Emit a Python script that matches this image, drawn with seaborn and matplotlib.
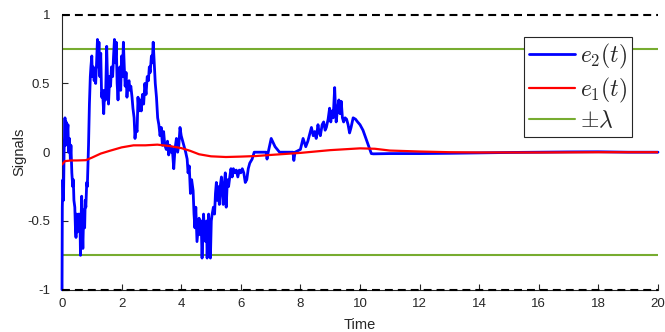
import matplotlib
matplotlib.use("Agg")
import matplotlib.pyplot as plt
import numpy as np
import pandas as pd
import seaborn as sns

# ---- data -------------------------------------------------------------
# e2(t): fast, noisy error signal
e2_time = [
    0.00, 0.01, 0.03, 0.05, 0.07, 0.10, 0.12, 0.14, 0.17, 0.20, 0.22, 0.25,
    0.28, 0.30, 0.33, 0.36, 0.38, 0.40, 0.43, 0.45, 0.47, 0.49, 0.52, 0.55,
    0.58, 0.60, 0.62, 0.64, 0.66, 0.68, 0.70, 0.73, 0.76, 0.78, 0.80, 0.83,
    0.85, 0.87, 0.89, 0.92, 0.95, 0.97, 1.00, 1.02, 1.05, 1.08, 1.10, 1.13,
    1.16, 1.19, 1.21, 1.24, 1.27, 1.30, 1.33, 1.36, 1.40, 1.43, 1.46, 1.50,
    1.53, 1.56, 1.60, 1.63, 1.66, 1.70, 1.73, 1.76, 1.79, 1.82, 1.85, 1.88,
    1.91, 1.94, 1.97, 2.00, 2.03, 2.06, 2.09, 2.12, 2.15, 2.18, 2.21, 2.25,
    2.28, 2.31, 2.35, 2.38, 2.42, 2.45, 2.48, 2.52, 2.55, 2.58, 2.62, 2.66,
    2.70, 2.74, 2.78, 2.82, 2.86, 2.90, 2.93, 2.96, 3.00, 3.03, 3.06, 3.10,
    3.13, 3.17, 3.21, 3.25, 3.29, 3.33, 3.37, 3.41, 3.45, 3.50, 3.54, 3.58,
    3.62, 3.66, 3.70, 3.75, 3.79, 3.84, 3.88, 3.92, 3.96, 4.00, 4.05, 4.10,
    4.15, 4.20, 4.23, 4.27, 4.31, 4.35, 4.40, 4.43, 4.46, 4.49, 4.53, 4.57,
    4.60, 4.63, 4.67, 4.70, 4.73, 4.75, 4.78, 4.82, 4.85, 4.87, 4.90, 4.92,
    4.95, 4.98, 5.01, 5.04, 5.08, 5.12, 5.15, 5.18, 5.21, 5.24, 5.28, 5.31,
    5.35, 5.38, 5.41, 5.45, 5.48, 5.51, 5.55, 5.59, 5.63, 5.67, 5.71, 5.75,
    5.80, 5.85, 5.90, 5.95, 6.00, 6.05, 6.10, 6.15, 6.20, 6.25, 6.30, 6.38,
    6.45, 6.55, 6.70, 6.85, 6.88, 6.92, 7.02, 7.15, 7.30, 7.50, 7.75, 7.78,
    7.82, 8.00, 8.09, 8.18, 8.25, 8.37, 8.43, 8.48, 8.53, 8.59, 8.63, 8.67,
    8.73, 8.78, 8.83, 8.87, 8.93, 8.98, 9.02, 9.06, 9.10, 9.15, 9.18, 9.20,
    9.25, 9.29, 9.33, 9.37, 9.41, 9.45, 9.50, 9.55, 9.60, 9.65, 9.70, 9.77,
    9.85, 9.92, 10.00, 10.10, 10.20, 10.30, 10.38, 10.45, 11.0, 12.0, 13.0,
    14.0, 15.0, 16.0, 17.0, 18.0, 19.0, 20.0,
]
e2_value = [
    -1.00, -0.40, -0.20, -0.35, 0.00, 0.25, 0.05, 0.22, 0.12, 0.20, 0.00, 0.10,
    -0.05, 0.05, -0.15, -0.25, -0.20, -0.35, -0.40, -0.55, -0.62, -0.45, -0.58, -0.45,
    -0.55, -0.45, -0.75, -0.50, -0.32, -0.55, -0.70, -0.42, -0.55, -0.35, -0.40, -0.22,
    -0.25, -0.10, 0.05, 0.35, 0.55, 0.62, 0.70, 0.55, 0.62, 0.52, 0.60, 0.50,
    0.65, 0.82, 0.62, 0.80, 0.55, 0.72, 0.40, 0.45, 0.28, 0.45, 0.38, 0.77,
    0.50, 0.35, 0.55, 0.48, 0.62, 0.55, 0.70, 0.82, 0.65, 0.80, 0.50, 0.38,
    0.55, 0.62, 0.45, 0.70, 0.55, 0.80, 0.62, 0.48, 0.58, 0.40, 0.50, 0.52,
    0.45, 0.48, 0.40, 0.32, 0.25, 0.10, 0.18, 0.15, 0.40, 0.30, 0.38, 0.30,
    0.42, 0.35, 0.50, 0.42, 0.55, 0.52, 0.62, 0.58, 0.70, 0.65, 0.80, 0.62,
    0.50, 0.40, 0.25, 0.20, 0.12, 0.18, 0.05, 0.15, 0.05, 0.02, 0.08, -0.02,
    0.05, 0.00, 0.03, -0.12, 0.02, 0.10, 0.00, 0.05, 0.18, 0.12, 0.08, 0.04,
    0.00, -0.05, -0.15, -0.10, -0.30, -0.20, -0.28, -0.45, -0.55, -0.40, -0.65, -0.55,
    -0.48, -0.60, -0.50, -0.77, -0.55, -0.45, -0.60, -0.65, -0.50, -0.77, -0.55, -0.45,
    -0.60, -0.77, -0.50, -0.45, -0.40, -0.45, -0.30, -0.22, -0.35, -0.25, -0.38, -0.25,
    -0.18, -0.30, -0.38, -0.22, -0.15, -0.40, -0.20, -0.25, -0.18, -0.12, -0.18, -0.12,
    -0.15, -0.13, -0.18, -0.13, -0.15, -0.12, -0.15, -0.22, -0.20, -0.12, -0.08, -0.05,
    0.00, 0.00, 0.00, 0.00, -0.05, 0.00, 0.10, 0.04, 0.00, 0.00, 0.00, -0.06,
    0.00, 0.02, 0.10, 0.04, 0.08, 0.18, 0.12, 0.15, 0.10, 0.20, 0.14, 0.12,
    0.20, 0.22, 0.16, 0.18, 0.24, 0.32, 0.22, 0.30, 0.25, 0.47, 0.30, 0.22,
    0.32, 0.38, 0.28, 0.37, 0.25, 0.22, 0.25, 0.24, 0.20, 0.14, 0.18, 0.25,
    0.24, 0.22, 0.20, 0.16, 0.10, 0.04, -0.01, -0.012, -0.010, -0.010, -0.008,
    -0.005, -0.002, 0.000, 0.002, 0.003, 0.000, 0.000,
]

# e1(t): slow, smooth error signal
e1_time = [0.0, 0.1, 0.3, 0.5, 0.8, 1.0, 1.3, 1.6, 2.0, 2.4, 2.8, 3.2, 3.6,
           4.0, 4.3, 4.6, 5.0, 5.5, 6.0, 6.5, 7.0, 8.0, 9.0, 10.0, 10.5,
           11.0, 12.0, 13.0, 14.0, 16.0, 18.0, 20.0]
e1_value = [-0.09, -0.065, -0.06, -0.06, -0.058, -0.04, -0.01, 0.01, 0.035,
            0.05, 0.05, 0.055, 0.045, 0.03, 0.01, -0.015, -0.03, -0.035,
            -0.032, -0.028, -0.02, -0.005, 0.015, 0.028, 0.025, 0.012, 0.005,
            0.0, -0.002, -0.002, 0.0, 0.0]

lam = 0.75          # +/- lambda threshold
bound = 1.0         # outer bound drawn dashed
x_range = [0, 20]

x_ticks = [0, 2, 4, 6, 8, 10, 12, 14, 16, 18, 20]
y_ticks = [-1, -0.5, 0, 0.5, 1]
y_tick_labels = ["-1", "-0.5", "0", "0.5", "1"]

# ---- style ------------------------------------------------------------
sns.set_theme(style="white")
plt.rcParams["font.family"] = ["Liberation Sans", "DejaVu Sans"]
plt.rcParams["mathtext.fontset"] = "cm"
plt.rcParams["axes.unicode_minus"] = False

ink = "#262626"
fig = plt.figure(figsize=(6.65, 3.32), dpi=100)
ax = fig.add_axes([62 / 665, 42.3 / 332, 596 / 665, 275 / 332])

e2_df = pd.DataFrame({"t": e2_time, "v": e2_value})
e1_df = pd.DataFrame({"t": e1_time, "v": e1_value})

sns.lineplot(data=e2_df, x="t", y="v", ax=ax, color="#0000FF", lw=2.0,
             estimator=None, sort=False, label=r"$e_2(t)$")
e2_line = ax.lines[-1]
e2_line.set_clip_on(False)
e2_line.set_zorder(3)
sns.lineplot(data=e1_df, x="t", y="v", ax=ax, color="#FF0000", lw=1.6,
             estimator=None, sort=False, label=r"$e_1(t)$")
ax.lines[-1].set_zorder(3.1)

lam_df = pd.DataFrame({"t": x_range * 2, "v": [lam, lam, -lam, -lam],
                       "side": ["up", "up", "lo", "lo"]})
for side, grp in lam_df.groupby("side", sort=False):
    sns.lineplot(data=grp, x="t", y="v", ax=ax, color="#77AC30", lw=1.5,
                 estimator=None, sort=False,
                 label=r"$\pm\lambda$" if side == "up" else None)

for b in (bound, -bound):
    line = sns.lineplot(x=x_range, y=[b, b], ax=ax, color="black", lw=1.5,
                        estimator=None, sort=False).lines[-1]
    line.set_dashes((3.8, 2.4))
    line.set_clip_on(False)
    line.set_zorder(3.2)

ax.set_xlim(*x_range)
ax.set_ylim(-bound, bound)
ax.set_xticks(x_ticks)
ax.set_xticklabels([str(v) for v in x_ticks])
ax.set_yticks(y_ticks)
ax.set_yticklabels(y_tick_labels)
ax.tick_params(direction="in", length=4, width=0.8, colors=ink,
               labelsize=9.5, pad=6)
ax.tick_params(axis="y", pad=8.5)
ax.tick_params(axis="x", top=False, bottom=True)
ax.tick_params(axis="y", left=True, right=False)

for s in ("top", "right"):
    ax.spines[s].set_visible(False)
for s in ("left", "bottom"):
    ax.spines[s].set_color(ink)
    ax.spines[s].set_linewidth(0.8)

ax.set_xlabel("Time", fontsize=10.5, color=ink, labelpad=6)
ax.set_ylabel("Signals", fontsize=10.5, color=ink, labelpad=1)

leg = ax.legend(loc="upper right", bbox_to_anchor=(0.956, 0.919),
                fontsize=17, frameon=True, fancybox=False, framealpha=1,
                handlelength=1.95, handletextpad=0.22, labelspacing=0.22,
                borderpad=0.2, borderaxespad=0)
leg.get_frame().set_edgecolor(ink)
leg.get_frame().set_linewidth(0.8)
leg.set_zorder(5)

fig.savefig("out.png", dpi=100)
